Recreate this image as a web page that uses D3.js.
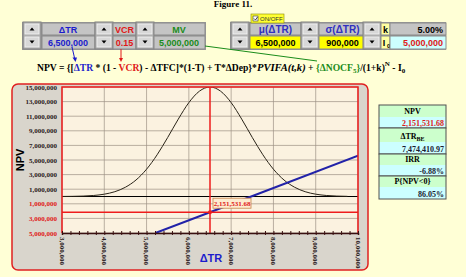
<!DOCTYPE html>
<html>
<head>
<meta charset="utf-8">
<script src="https://cdn.jsdelivr.net/npm/d3@7"></script>
<style>
  body { margin: 0; background: #ffffd6; }
  svg { display: block; }
</style>
</head>
<body>
<div id="chart"></div>
<script>
// ---- data ----
const xTickValues = [3000000, 4000000, 5000000, 6000000, 7000000, 8000000, 9000000, 10000000];
const yTickValues = [-5000000, -3000000, -1000000, 1000000, 3000000, 5000000, 7000000, 9000000, 11000000, 13000000, 15000000];

// bell curve of ΔTR (drawn on the NPV scale, baseline at 0)
const curveTR = [3000000, 3250000, 3500000, 3750000, 4000000, 4250000, 4500000, 4750000, 5000000, 5250000,
    5500000, 5750000, 6000000, 6250000, 6500000, 6750000, 7000000, 7250000, 7500000, 7750000,
    8000000, 8250000, 8500000, 8750000, 9000000, 9250000, 9500000, 9750000];
const curveHeight = [8000, 22000, 58000, 140000, 317000, 659000, 1270000, 2260000, 3740000, 5720000,
    8090000, 10600000, 12860000, 14430000, 15000000, 14430000, 12860000, 10600000, 8090000, 5720000,
    3740000, 2260000, 1270000, 659000, 317000, 140000, 58000, 22000];

// NPV line against ΔTR
const npvLineTR = [5210000, 6500000, 7474410.97, 10000000];
const npvLineValue = [-5000000, -2151531.68, 0, 5577000];

const currentTR = 6500000;
const currentNPV = -2151531.68;

const summaryLabels = ['NPV', 'ΔTR', 'IRR', 'P{NPV<0}'];
const summaryValues = ['2,151,531.68', '7,474,410.97', '-6.88%', '86.05%'];

const W = 466, H = 277;
const svg = d3.select('#chart').append('svg')
    .attr('width', W)
    .attr('height', H);

svg.append('rect').attr('width', W).attr('height', H).attr('fill', '#ffffd6');

const serif = '"Liberation Serif", "Times New Roman", serif';
const sans = '"Liberation Sans", Arial, sans-serif';

svg.append('text')
    .attr('x', 233).attr('y', 7)
    .attr('text-anchor', 'middle')
    .style('font', `bold 9px ${serif}`)
    .text('Figure 11.');

// ---- control strip ----
function cell(x, y, w, h, fill) {
    svg.append('rect')
        .attr('x', x).attr('y', y).attr('width', w).attr('height', h)
        .attr('fill', fill).attr('stroke', '#8a8a8a').attr('stroke-width', 1);
}
function cellText(x, y, txt, color, anchor, size) {
    return svg.append('text')
        .attr('x', x).attr('y', y)
        .attr('text-anchor', anchor || 'middle')
        .attr('fill', color)
        .style('font', `bold ${size || 9}px ${sans}`)
        .text(txt);
}
function spinner(x, y) {
    svg.append('rect').attr('x', x).attr('y', y).attr('width', 18).attr('height', 27)
        .attr('fill', '#b0b0b0').attr('stroke', '#808080');
    [[y + 2, true], [y + 15, false]].forEach(([by, up]) => {
        svg.append('rect').attr('x', x + 2).attr('y', by).attr('width', 14).attr('height', 10)
            .attr('fill', '#d8d8d8').attr('stroke', '#f4f4f4').attr('stroke-width', 0.8);
        const cx = x + 9, cy = by + 5;
        const pts = up ? [[cx - 2.5, cy + 1.5], [cx + 2.5, cy + 1.5], [cx, cy - 1.5]]
                       : [[cx - 2.5, cy - 1.5], [cx + 2.5, cy - 1.5], [cx, cy + 1.5]];
        svg.append('path').attr('d', d3.line()(pts) + 'Z').attr('fill', '#000');
    });
}

// left group
svg.append('rect').attr('x', 22).attr('y', 22).attr('width', 184).attr('height', 28).attr('fill', '#9a9a9a');
spinner(23, 22);
cell(42, 23, 53, 12, '#c4c4c4'); cell(42, 36, 53, 13, '#c4c4c4');
cellText(68, 33, 'ΔTR', '#1c1ccc');
cellText(68, 46, '6,500,000', '#1c1ccc');
spinner(95, 22);
cell(113, 23, 23, 12, '#c4c4c4'); cell(113, 36, 23, 13, '#c4c4c4');
cellText(124.5, 33, 'VCR', '#e01818');
cellText(124.5, 46, '0.15', '#e01818');
spinner(136, 22);
cell(154, 23, 51, 12, '#c4c4c4'); cell(154, 36, 51, 13, '#c4c4c4');
cellText(179, 33, 'MV', '#1a8c1a');
cellText(179, 46, '5,000,000', '#1a8c1a');

// right group
svg.append('rect').attr('x', 230).attr('y', 22).attr('width', 216).attr('height', 28).attr('fill', '#9a9a9a');
spinner(231, 22);
cell(250, 23, 51, 12, '#c4c4c4'); cell(250, 36, 51, 13, '#ffff00');
cellText(275.5, 33, 'μ(ΔTR)', '#3030c0', 'middle', 10);
cellText(275.5, 46, '6,500,000', '#000');
spinner(301, 22);
cell(319, 23, 47, 12, '#c4c4c4'); cell(319, 36, 47, 13, '#ffff00');
cellText(342.5, 33, 'σ(ΔTR)', '#3030c0', 'middle', 10);
cellText(342.5, 46, '900,000', '#000');
spinner(363, 22);
cell(381, 23, 9, 12, '#ffffa0'); cell(381, 36, 9, 13, '#ffffa0');
cellText(385.5, 33, 'k', '#000');
cellText(384, 46, 'I', '#000');
cellText(387, 48, '0', '#000', 'start', 6);
cell(390, 23, 56, 12, '#c4c4c4'); cell(390, 36, 56, 13, '#ccffff');
cellText(443, 33, '5.00%', '#000', 'end');
cellText(443, 46, '5,000,000', '#e01818', 'end');

// ON/OFF checkbox
svg.append('rect').attr('x', 251).attr('y', 14).attr('width', 33).attr('height', 9)
    .attr('fill', '#ffff33').attr('stroke', '#888800').attr('stroke-width', 0.6);
svg.append('rect').attr('x', 253).attr('y', 16).attr('width', 5).attr('height', 5)
    .attr('fill', '#fff').attr('stroke', '#333').attr('stroke-width', 0.6);
svg.append('path').attr('d', 'M254,18.5 L255.5,20 L257.5,17').attr('fill', 'none').attr('stroke', '#000').attr('stroke-width', 0.7);
svg.append('text').attr('x', 260).attr('y', 21).style('font', `6px ${sans}`).attr('fill', '#333').text('ON/OFF');

// ---- formula ----
const f = svg.append('text').attr('x', 37).attr('y', 71)
    .style('font', `bold 9.6px ${serif}`).attr('fill', '#000');
const parts = [
    ['NPV = {[', '#000'], ['ΔTR', '#1c1ccc'], [' * (1 - ', '#000'], ['VCR', '#e01818'],
    [') - ΔTFC]*(1-T) + T*ΔDep}*', '#000']
];
parts.forEach(([t, c]) => f.append('tspan').attr('fill', c).text(t));
f.append('tspan').style('font', `italic bold 10.6px ${serif}`).text('PVIFA(t,k)');
f.append('tspan').text('  + ');
f.append('tspan').attr('fill', '#1a8c1a').text('{ΔNOCF');
f.append('tspan').attr('fill', '#1a8c1a').attr('dy', 2).style('font-size', '7px').text('5');
f.append('tspan').attr('fill', '#1a8c1a').attr('dy', -2).text('}');
f.append('tspan').text('/(1+k)');
f.append('tspan').attr('dy', -5).style('font-size', '7px').text('N');
f.append('tspan').attr('dy', 5).text(' - I');
f.append('tspan').attr('dy', 2).style('font-size', '7px').text('0');

// connectors from inputs to formula
svg.append('line').attr('x1', 72).attr('y1', 47).attr('x2', 75).attr('y2', 60)
    .attr('stroke', '#1c1ccc').attr('stroke-width', 1);
svg.append('path').attr('d', 'M75.5,62 L72.5,57.5 L77,57.5 Z').attr('fill', '#1c1ccc');
svg.append('line').attr('x1', 121).attr('y1', 49).attr('x2', 121).attr('y2', 60)
    .attr('stroke', '#e01818').attr('stroke-width', 1);
svg.append('path').attr('d', 'M121,62 L119,58 L123,58 Z').attr('fill', '#e01818');
svg.append('line').attr('x1', 205).attr('y1', 46).attr('x2', 317).attr('y2', 61)
    .attr('stroke', '#1a8c1a').attr('stroke-width', 1);

// ---- chart panel ----
svg.append('rect')
    .attr('x', 12).attr('y', 84).attr('width', 356).attr('height', 186).attr('rx', 6)
    .attr('fill', '#d9d5cc').attr('stroke', '#e02020').attr('stroke-width', 1.5);

const plot = { left: 62, right: 358, top: 87, bottom: 233 };

const x = d3.scaleLinear().domain([3000000, 10000000]).range([plot.left, plot.right]);
const y = d3.scaleLinear().domain([-5000000, 15000000]).range([plot.bottom, plot.top]);

svg.append('rect')
    .attr('x', plot.left).attr('y', plot.top)
    .attr('width', plot.right - plot.left).attr('height', plot.bottom - plot.top)
    .attr('fill', '#fbf2e0');

svg.append('clipPath').attr('id', 'plot-clip').append('rect')
    .attr('x', plot.left).attr('y', plot.top)
    .attr('width', plot.right - plot.left).attr('height', plot.bottom - plot.top);

// grid
svg.append('g')
    .selectAll('line').data(yTickValues).enter().append('line')
    .attr('x1', plot.left).attr('x2', plot.right)
    .attr('y1', d => y(d)).attr('y2', d => y(d))
    .attr('stroke', '#9c9084').attr('stroke-width', 0.7);
svg.append('g')
    .selectAll('line').data(xTickValues).enter().append('line')
    .attr('y1', plot.top).attr('y2', plot.bottom)
    .attr('x1', d => x(d)).attr('x2', d => x(d))
    .attr('stroke', '#9c9084').attr('stroke-width', 0.7);

// zero line
svg.append('line')
    .attr('x1', plot.left).attr('x2', plot.right)
    .attr('y1', y(0)).attr('y2', y(0))
    .attr('stroke', '#000').attr('stroke-width', 1);

const g = svg.append('g').attr('clip-path', 'url(#plot-clip)');

// bell curve
const bell = curveTR.map((v, i) => ({ tr: v, h: curveHeight[i] }));
g.append('path')
    .datum(bell)
    .attr('fill', 'none')
    .attr('stroke', '#2a2418')
    .attr('stroke-width', 1)
    .attr('d', d3.line().x(d => x(d.tr)).y(d => y(d.h)).curve(d3.curveMonotoneX));

// NPV line
const npvLine = npvLineTR.map((v, i) => ({ tr: v, npv: npvLineValue[i] }));
g.append('path')
    .datum(npvLine)
    .attr('fill', 'none')
    .attr('stroke', '#2222a8')
    .attr('stroke-width', 2)
    .attr('d', d3.line().x(d => x(d.tr)).y(d => y(d.npv)));

// current value crosshair
svg.append('line')
    .attr('x1', plot.left).attr('x2', plot.right)
    .attr('y1', y(currentNPV)).attr('y2', y(currentNPV))
    .attr('stroke', '#ee1c1c').attr('stroke-width', 1.5);
svg.append('line')
    .attr('x1', x(currentTR)).attr('x2', x(currentTR))
    .attr('y1', plot.top).attr('y2', plot.bottom)
    .attr('stroke', '#ee1c1c').attr('stroke-width', 1.5);
svg.append('circle')
    .attr('cx', x(currentTR)).attr('cy', y(currentNPV)).attr('r', 2)
    .attr('fill', '#ee1c1c');

// value tag
svg.append('rect')
    .attr('x', x(currentTR) + 3).attr('y', y(currentNPV) - 14)
    .attr('width', 38).attr('height', 10)
    .attr('fill', '#fdebd0').attr('stroke', '#c8844a').attr('stroke-width', 0.8);
svg.append('text')
    .attr('x', x(currentTR) + 22).attr('y', y(currentNPV) - 6.5)
    .attr('text-anchor', 'middle')
    .attr('fill', '#e01818')
    .style('font', `bold 7px ${serif}`)
    .text(d3.format(',.2f')(Math.abs(currentNPV)));

// plot border (red) on three sides
svg.append('path')
    .attr('d', `M${plot.left},${plot.bottom} V${plot.top} H${plot.right} V${plot.bottom}`)
    .attr('fill', 'none').attr('stroke', '#ee1c1c').attr('stroke-width', 1.5);

// x axis
const xAxis = svg.append('g')
    .attr('transform', `translate(0, ${plot.bottom})`)
    .call(d3.axisBottom(x).ticks(28).tickSize(2).tickFormat(''));
xAxis.select('.domain').attr('stroke', '#3a1010').attr('stroke-width', 1.5);
xAxis.selectAll('.tick line').attr('stroke', '#3a1010').attr('y1', -2).attr('y2', 2);

svg.append('g')
    .selectAll('text').data(xTickValues).enter().append('text')
    .attr('transform', d => `translate(${x(d) - 2.5}, ${plot.bottom + 4}) rotate(90)`)
    .attr('text-anchor', 'start')
    .attr('fill', '#2a2020')
    .style('font', `bold 7px ${serif}`)
    .text(d => d3.format(',')(d));

// y axis labels
svg.append('g')
    .selectAll('text').data(yTickValues).enter().append('text')
    .attr('x', plot.left - 5)
    .attr('y', d => y(d) + 2.5)
    .attr('text-anchor', 'end')
    .attr('fill', d => d < 0 ? '#e01818' : '#2a2020')
    .style('font', `bold 7px ${serif}`)
    .text(d => d3.format(',')(Math.abs(d)));

svg.append('text')
    .attr('transform', 'translate(24, 160) rotate(-90)')
    .attr('text-anchor', 'middle')
    .style('font', `bold 11px ${sans}`)
    .text('NPV');

svg.append('text')
    .attr('x', 211).attr('y', 262)
    .attr('text-anchor', 'middle')
    .attr('fill', '#1c1ccc')
    .style('font', `bold 11px ${sans}`)
    .text('ΔTR');

// ---- summary table ----
const tbl = { x: 379, w: 67 };
const rows = [
    { head: [105, 117], val: [117, 128] },
    { head: [128, 142], val: [142, 154] },
    { head: [154, 165], val: [165, 176] },
    { head: [176, 187], val: [187, 199] }
];
rows.forEach((r, i) => {
    svg.append('rect').attr('x', tbl.x).attr('y', r.head[0]).attr('width', tbl.w).attr('height', r.head[1] - r.head[0])
        .attr('fill', '#ccffcc');
    svg.append('rect').attr('x', tbl.x).attr('y', r.val[0]).attr('width', tbl.w).attr('height', r.val[1] - r.val[0])
        .attr('fill', '#ccffff');
    svg.append('rect').attr('x', tbl.x).attr('y', r.head[0]).attr('width', tbl.w).attr('height', r.val[1] - r.head[0])
        .attr('fill', 'none').attr('stroke', '#505050').attr('stroke-width', 1);
    const ht = svg.append('text')
        .attr('x', tbl.x + tbl.w / 2).attr('y', r.head[1] - 3)
        .attr('text-anchor', 'middle')
        .style('font', `bold 8px ${serif}`)
        .text(summaryLabels[i]);
    if (i === 1) ht.append('tspan').attr('dy', 2).style('font-size', '6px').text('BE');
    svg.append('text')
        .attr('x', tbl.x + tbl.w - 2).attr('y', r.val[1] - 2.5)
        .attr('text-anchor', 'end')
        .attr('fill', i === 0 ? '#e01818' : '#1a1a30')
        .style('font', `bold 8px ${serif}`)
        .text(summaryValues[i]);
});
</script>
</body>
</html>
